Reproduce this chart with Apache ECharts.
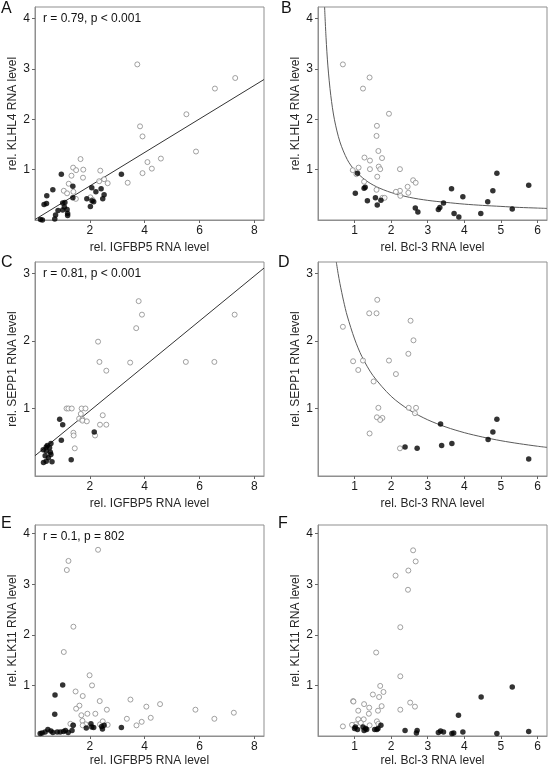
<!DOCTYPE html>
<html>
<head>
<meta charset="utf-8">
<script src="https://cdn.jsdelivr.net/npm/echarts@6/dist/echarts.min.js"></script>
<style>
html,body{margin:0;padding:0;background:#fff;}
#chart{width:549px;height:768px;}
</style>
</head>
<body>
<div id="chart"></div>
<script>
// ---------- tick labels ----------
const xTicksIGFBP5 = [2, 4, 6, 8];
const xTicksBcl3 = [1, 2, 3, 4, 5, 6];
const yTicksKLHL4 = [1, 2, 3, 4];
const yTicksSEPP1 = [1, 2, 3];
const yTicksKLK11 = [1, 2, 3, 4];

// ---------- panel labels / texts ----------
const panelLetters = ['A', 'B', 'C', 'D', 'E', 'F'];
const statTexts = ['r = 0.79, p < 0.001', '', 'r = 0.81, p < 0.001', '', 'r = 0.1, p = 802', ''];
const xTitles = ['rel. IGFBP5 RNA level', 'rel. Bcl-3 RNA level', 'rel. IGFBP5 RNA level', 'rel. Bcl-3 RNA level', 'rel. IGFBP5 RNA level', 'rel. Bcl-3 RNA level'];
const yTitles = ['rel. KLHL4 RNA level', 'rel. KLHL4 RNA level', 'rel. SEPP1 RNA level', 'rel. SEPP1 RNA level', 'rel. KLK11 RNA level', 'rel. KLK11 RNA level'];

// ---------- Panel A: KLHL4 vs IGFBP5 ----------
const aOpen = [[3.73,3.09],[7.30,2.82],[6.56,2.61],[5.52,2.10],[3.83,1.86],[3.92,1.66],[5.87,1.36],
  [4.10,1.15],[4.59,1.22],[4.26,1.02],[3.92,0.93],[3.38,0.74],[1.66,1.21],[1.39,1.04],[1.50,0.99],
  [1.76,1.00],[1.33,0.88],[1.75,0.84],[2.38,0.98],[2.34,0.77],[2.52,0.81],[2.65,0.73],[1.23,0.72],
  [1.05,0.58],[1.40,0.56],[1.17,0.53],[1.49,0.42],[2.02,0.45],[2.10,0.40]];
const aFilled = [[0.96,0.91],[3.15,0.91],[0.65,0.60],[0.43,0.48],[0.33,0.31],[0.42,0.33],[1.38,0.67],
  [2.07,0.64],[1.38,0.44],[2.22,0.56],[2.41,0.62],[2.52,0.50],[2.47,0.42],[1.89,0.42],[2.08,0.38],
  [2.14,0.36],[2.02,0.27],[1.01,0.34],[1.09,0.35],[1.07,0.26],[1.17,0.21],[1.01,0.20],[0.84,0.19],
  [1.19,0.13],[1.19,0.09],[0.75,0.10],[0.72,0.02],[0.20,0.01],[0.27,0.00]];
const aFitLine = [[0, 0.01], [8.35, 2.79]];

// ---------- Panel B: KLHL4 vs Bcl-3 ----------
const bOpen = [[0.68,3.09],[1.41,2.83],[1.23,2.61],[1.94,2.11],[1.61,1.87],[1.60,1.67],[1.65,1.37],
  [1.75,1.23],[1.27,1.24],[1.42,1.18],[1.11,1.04],[1.66,1.06],[1.70,1.01],[1.42,1.01],[0.95,0.99],
  [1.05,0.91],[2.24,1.01],[1.62,0.86],[1.26,0.76],[2.60,0.79],[2.67,0.74],[2.45,0.66],[1.60,0.60],
  [2.47,0.54],[2.24,0.58],[2.13,0.56],[2.25,0.48],[1.76,0.44],[1.82,0.44]];
const bFilled = [[1.08,0.93],[1.02,0.53],[1.29,0.65],[1.26,0.63],[1.35,0.38],[1.57,0.44],[1.72,0.39],
  [1.62,0.30],[2.66,0.24],[2.73,0.16],[3.29,0.21],[3.33,0.25],[3.43,0.34],[3.65,0.62],[3.96,0.46],
  [3.72,0.13],[3.85,0.06],[4.45,0.13],[4.64,0.36],[4.78,0.58],[4.89,0.93],[5.31,0.22],[5.76,0.69]];
const bFitCurve = [[0.18,4.23],[0.22,3.62],[0.27,3.06],[0.35,2.47],[0.45,1.99],[0.6,1.55],[0.8,1.20],
  [1.0,0.99],[1.3,0.79],[1.6,0.66],[2.0,0.545],[2.5,0.45],[3.0,0.39],[3.5,0.35],[4.0,0.315],
  [4.5,0.29],[5.0,0.27],[5.5,0.25],[6.0,0.237],[6.26,0.23]];

// ---------- Panel C: SEPP1 vs IGFBP5 ----------
const cOpen = [[3.78,2.59],[3.90,2.39],[3.69,2.19],[7.28,2.39],[2.30,1.99],[2.35,1.69],[3.47,1.68],
  [2.60,1.56],[5.50,1.69],[6.54,1.69],[1.15,1.00],[1.22,1.00],[1.34,1.00],[1.70,1.00],[1.84,1.00],
  [1.67,0.92],[1.61,0.85],[1.73,0.84],[1.73,0.82],[1.89,0.81],[2.47,0.90],[2.37,0.76],[2.60,0.76],
  [1.40,0.64],[1.41,0.60],[2.19,0.60],[1.45,0.41]];
const cFilled = [[0.90,0.84],[1.01,0.76],[2.16,0.65],[0.96,0.53],[0.58,0.48],[0.45,0.45],[0.41,0.43],
  [0.53,0.42],[0.30,0.39],[0.41,0.37],[0.56,0.35],[0.58,0.32],[0.37,0.30],[0.49,0.27],[1.32,0.24],
  [0.41,0.22],[0.31,0.20],[0.62,0.21]];
const cFitLine = [[0, 0.30], [8.35, 3.08]];

// ---------- Panel D: SEPP1 vs Bcl-3 ----------
const dOpen = [[1.62,2.61],[1.40,2.41],[1.60,2.41],[0.68,2.21],[2.53,2.30],[2.61,2.01],[2.47,1.81],
  [1.94,1.71],[1.23,1.71],[0.96,1.70],[1.10,1.57],[2.13,1.51],[1.52,1.40],[1.65,1.01],[2.48,1.01],
  [2.68,1.01],[2.65,0.93],[1.61,0.87],[1.76,0.86],[1.70,0.83],[1.41,0.63],[2.24,0.41]];
const dFilled = [[2.38,0.43],[2.71,0.41],[3.35,0.77],[3.38,0.45],[3.66,0.48],[4.65,0.54],[4.78,0.65],
  [4.89,0.84],[5.76,0.25]];
const dFitCurve = [[0.5,3.17],[0.55,3.00],[0.6,2.85],[0.7,2.59],[0.8,2.37],[1.0,2.03],[1.2,1.77],
  [1.5,1.49],[2.0,1.18],[2.5,0.976],[3.0,0.832],[3.5,0.725],[4.0,0.642],[4.5,0.577],[5.0,0.523],
  [5.5,0.479],[6.0,0.441],[6.26,0.424]];

// ---------- Panel E: KLK11 vs IGFBP5 ----------
const eOpen = [[2.30,3.68],[1.22,3.46],[1.16,3.28],[1.40,2.16],[1.05,1.66],[1.99,1.20],[2.08,1.00],
  [1.48,0.88],[1.74,0.79],[2.36,0.69],[3.48,0.72],[4.06,0.58],[4.56,0.63],[1.62,0.60],[1.50,0.54],
  [2.62,0.52],[5.85,0.52],[6.54,0.34],[7.25,0.46],[1.69,0.41],[1.91,0.44],[2.20,0.44],[3.35,0.34],
  [4.22,0.36],[3.89,0.28],[3.70,0.21],[1.73,0.30],[1.85,0.23],[1.29,0.24],[1.39,0.21],[1.74,0.21],
  [2.37,0.23],[2.47,0.29],[2.65,0.22]];
const eFilled = [[1.01,1.01],[0.73,0.81],[0.72,0.43],[1.39,0.21],[2.04,0.24],[2.07,0.18],[2.43,0.19],
  [2.52,0.21],[2.46,0.14],[1.87,0.16],[2.14,0.17],[3.15,0.17],[1.35,0.11],[1.11,0.11],[1.04,0.09],
  [0.81,0.08],[0.58,0.10],[0.47,0.13],[0.37,0.08],[0.26,0.06],[0.19,0.05],[0.65,0.07],[0.92,0.08],
  [1.21,0.07]];

// ---------- Panel F: KLK11 vs Bcl-3 ----------
const fOpen = [[2.60,3.67],[2.67,3.45],[2.47,3.27],[2.12,3.17],[2.46,2.89],[2.25,2.15],[1.59,1.65],
  [2.25,1.18],[1.70,0.99],[1.79,0.87],[1.50,0.82],[1.67,0.77],[0.96,0.69],[0.97,0.68],[2.52,0.66],
  [1.26,0.63],[2.65,0.58],[1.74,0.59],[1.40,0.56],[2.25,0.52],[1.64,0.50],[1.10,0.50],[1.39,0.44],
  [1.25,0.33],[1.10,0.33],[1.61,0.29],[1.17,0.26],[1.03,0.23],[0.93,0.22],[1.41,0.21],[0.68,0.19],
  [1.65,0.24]];
const fFilled = [[5.31,0.97],[4.46,0.77],[3.84,0.41],[1.72,0.21],[2.38,0.11],[2.71,0.11],[2.69,0.06],
  [3.29,0.07],[3.35,0.10],[3.43,0.08],[3.66,0.05],[3.71,0.06],[3.96,0.08],[4.89,0.05],[5.76,0.09],
  [1.02,0.18],[1.00,0.15],[1.08,0.13],[1.23,0.18],[1.30,0.15],[1.33,0.13],[1.26,0.11],[1.55,0.13],
  [1.61,0.13],[1.64,0.15]];

// ---------- layout ----------
const FONT = 'Liberation Sans, Arial, sans-serif';
const grids = [
  {left: 35, top: 7, width: 229, height: 213},
  {left: 318, top: 7, width: 229, height: 213},
  {left: 35, top: 262, width: 229, height: 214},
  {left: 318, top: 262, width: 229, height: 214},
  {left: 35, top: 525, width: 229, height: 211},
  {left: 318, top: 525, width: 229, height: 211}
];
const xMaxes = [8.35, 6.26, 8.35, 6.26, 8.35, 6.26];
const yMaxes = [4.23, 4.23, 3.17, 3.17, 4.17, 4.17];
const xTickSets = [xTicksIGFBP5, xTicksBcl3, xTicksIGFBP5, xTicksBcl3, xTicksIGFBP5, xTicksBcl3];
const yTickSets = [yTicksKLHL4, yTicksKLHL4, yTicksSEPP1, yTicksSEPP1, yTicksKLK11, yTicksKLK11];
const xNameGaps = [22, 22, 22, 22, 19, 19];

const frameColor = '#8f8f8f';
const textColor = '#1a1a1a';

const xAxes = grids.map((g, i) => ({
  gridIndex: i, type: 'value', min: 0, max: xMaxes[i],
  axisLine: {show: true, onZero: false, lineStyle: {color: frameColor, width: 1}},
  axisTick: {show: true, length: 3, customValues: xTickSets[i], lineStyle: {color: '#666'}},
  axisLabel: {customValues: xTickSets[i], margin: 5, fontSize: 12, color: textColor, fontFamily: FONT},
  splitLine: {show: false},
  name: xTitles[i], nameLocation: 'middle', nameGap: xNameGaps[i],
  nameTextStyle: {fontSize: 12, color: '#262626', fontFamily: FONT}
}));
const yAxes = grids.map((g, i) => ({
  gridIndex: i, type: 'value', min: 0, max: yMaxes[i],
  axisLine: {show: true, onZero: false, lineStyle: {color: frameColor, width: 1}},
  axisTick: {show: true, length: 3, customValues: yTickSets[i], lineStyle: {color: '#666'}},
  axisLabel: {customValues: yTickSets[i], margin: 5, fontSize: 12, color: textColor, fontFamily: FONT},
  splitLine: {show: false},
  name: yTitles[i], nameLocation: 'middle', nameGap: 16,
  nameTextStyle: {fontSize: 12, color: '#262626', fontFamily: FONT}
}));

const openSets = [aOpen, bOpen, cOpen, dOpen, eOpen, fOpen];
const filledSets = [aFilled, bFilled, cFilled, dFilled, eFilled, fFilled];
const fitSets = [aFitLine, bFitCurve, cFitLine, dFitCurve, null, null];

const series = [];
grids.forEach((g, i) => {
  if (fitSets[i]) {
    series.push({
      type: 'line', xAxisIndex: i, yAxisIndex: i, data: fitSets[i],
      showSymbol: false, smooth: i % 2 === 1 ? 0.3 : false, clip: true,
      lineStyle: {color: i % 2 === 1 ? '#5a5a5a' : '#333', width: 1},
      silent: true, z: 1
    });
  }
  series.push({
    type: 'scatter', xAxisIndex: i, yAxisIndex: i, data: openSets[i],
    symbol: 'circle', symbolSize: 5,
    itemStyle: {color: '#ffffff', borderColor: '#8a8a8a', borderWidth: 1},
    z: 2
  });
  series.push({
    type: 'scatter', xAxisIndex: i, yAxisIndex: i, data: filledSets[i],
    symbol: 'circle', symbolSize: 5.5,
    itemStyle: {color: '#000000'},
    z: 3
  });
});

const letterPos = [[1, 1], [281, 1], [1, 255], [278, 255], [1, 516], [278, 516]];
const titles = [];
panelLetters.forEach((L, i) => {
  titles.push({text: L, left: letterPos[i][0], top: letterPos[i][1], padding: 0,
    textStyle: {fontSize: 16, fontWeight: 'normal', color: '#111', fontFamily: FONT}});
});
statTexts.forEach((t, i) => {
  if (!t) return;
  titles.push({text: t, left: grids[i].left + 8, top: grids[i].top + 6, padding: 0,
    textStyle: {fontSize: 12, fontWeight: 'normal', color: '#111', fontFamily: FONT}});
});

const chart = echarts.init(document.getElementById('chart'), null, {renderer: 'canvas'});
chart.setOption({
  animation: false,
  backgroundColor: '#ffffff',
  title: titles,
  grid: grids.map(g => Object.assign({show: true, borderColor: frameColor, borderWidth: 1, backgroundColor: 'transparent'}, g)),
  xAxis: xAxes,
  yAxis: yAxes,
  series: series
});
</script>
</body>
</html>
